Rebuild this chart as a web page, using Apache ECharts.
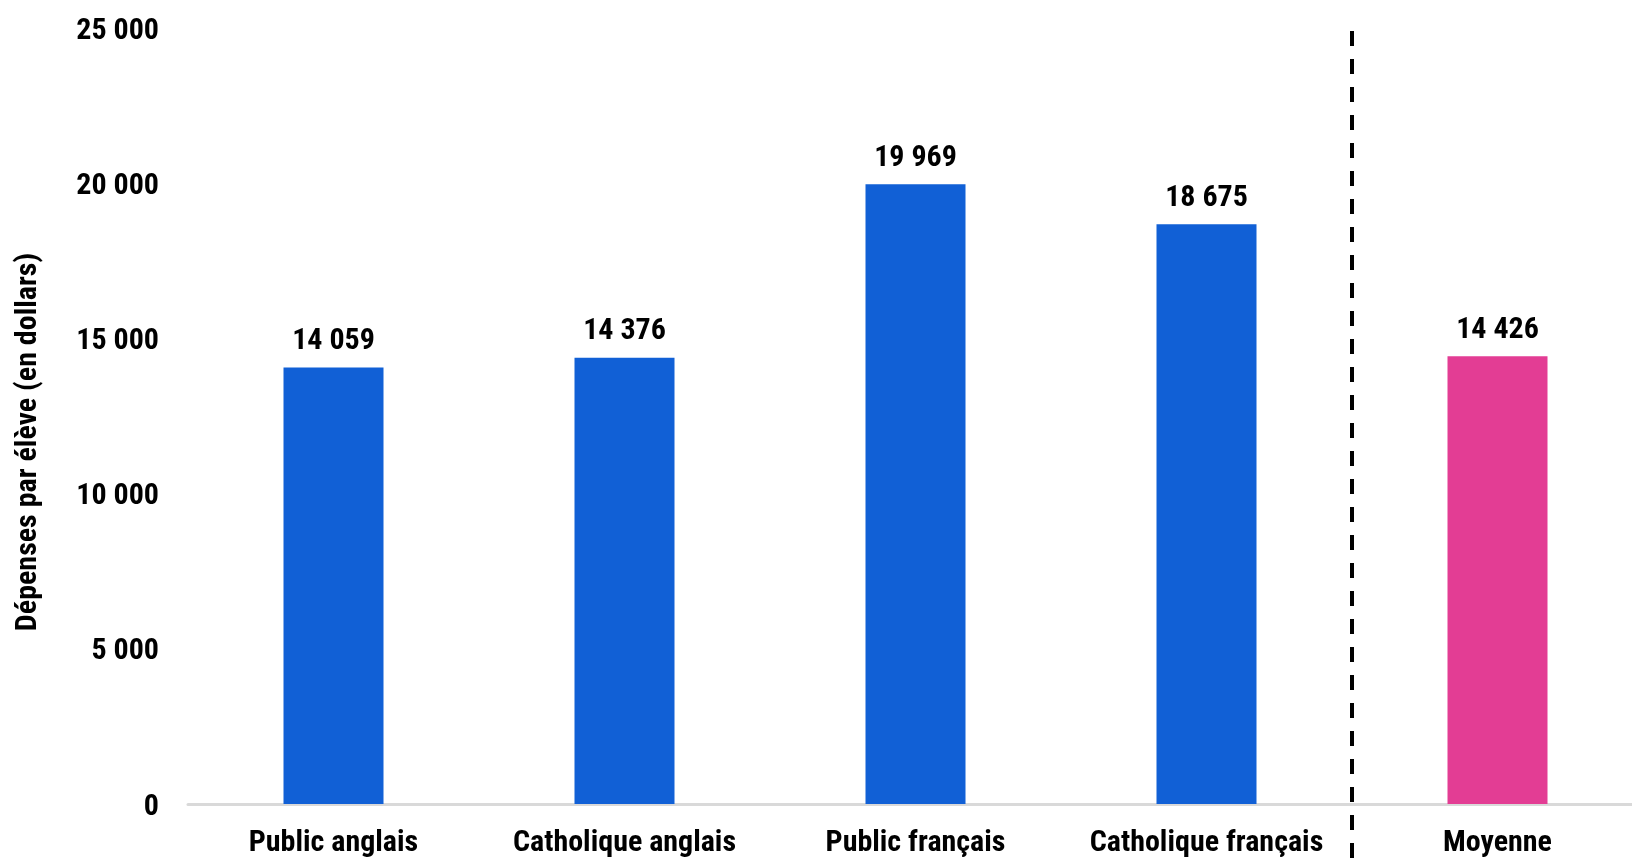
<!DOCTYPE html>
<html><head><meta charset="utf-8">
<script src="https://cdn.jsdelivr.net/npm/echarts@6/dist/echarts.min.js"></script>
<style>html,body{margin:0;padding:0;background:#fff;overflow:hidden}#c{width:1643px;height:858px}</style>
</head><body><div id="c"></div>
<script>
const categories = ['Public anglais', 'Catholique anglais', 'Public français', 'Catholique français', 'Moyenne'];
const values = [14059, 14376, 19969, 18675, 14426];
const barColors = ['#1160D6', '#1160D6', '#1160D6', '#1160D6', '#E33D94'];
const yTicks = { min: 0, max: 25000, interval: 5000 };
const yTitle = 'Dépenses par élève (en dollars)';

const FONT = '"Roboto Condensed", "Liberation Sans Narrow", "Roboto", sans-serif';
const FS = 30;
const fmt = v => String(v).replace(/\B(?=(\d{3})+(?!\d))/g, ' ');

const chart = echarts.init(document.getElementById('c'));
chart.setOption({
  animation: false,
  grid: { left: 188, right: 0, top: 28, bottom: 52, containLabel: false },
  xAxis: {
    type: 'category', data: categories,
    axisLine: { lineStyle: { color: '#D9D9D9', width: 3 } },
    axisTick: { show: false },
    axisLabel: { color: '#000', fontFamily: FONT, fontWeight: 'bold', fontSize: FS, margin: 24, interval: 0 }
  },
  yAxis: {
    type: 'value', min: yTicks.min, max: yTicks.max, interval: yTicks.interval,
    axisLine: { show: false }, axisTick: { show: false }, splitLine: { show: false },
    axisLabel: {
      color: '#000', fontFamily: FONT, fontWeight: 'bold', fontSize: FS, margin: 29,
      formatter: v => '{v|' + fmt(v) + '}',
      rich: { v: { color: '#000', fontFamily: FONT, fontWeight: 'bold', fontSize: FS, padding: [6, 0, 0, 0] } }
    }
  },
  series: [{
    type: 'bar', barWidth: 100,
    data: values.map((v, i) => ({ value: v, itemStyle: { color: barColors[i] } })),
    label: { show: true, position: 'top', distance: 11, color: '#000', fontFamily: FONT, fontWeight: 'bold', fontSize: FS, formatter: p => fmt(p.value) }
  }]
});

const x3 = chart.convertToPixel({ xAxisIndex: 0 }, categories[3]);
const x4 = chart.convertToPixel({ xAxisIndex: 0 }, categories[4]);
const xb = (x3 + x4) / 2;
chart.setOption({
  graphic: [
    { type: 'line', shape: { x1: xb, y1: 31, x2: xb, y2: 858 }, style: { stroke: '#000', lineWidth: 4, lineDash: [15, 13] }, z: 10 },
    { type: 'text', x: 28, y: 442, rotation: Math.PI / 2, style: { text: yTitle, fill: '#000', font: 'bold 30px ' + FONT, align: 'center', verticalAlign: 'middle' } }
  ]
});
</script></body></html>
